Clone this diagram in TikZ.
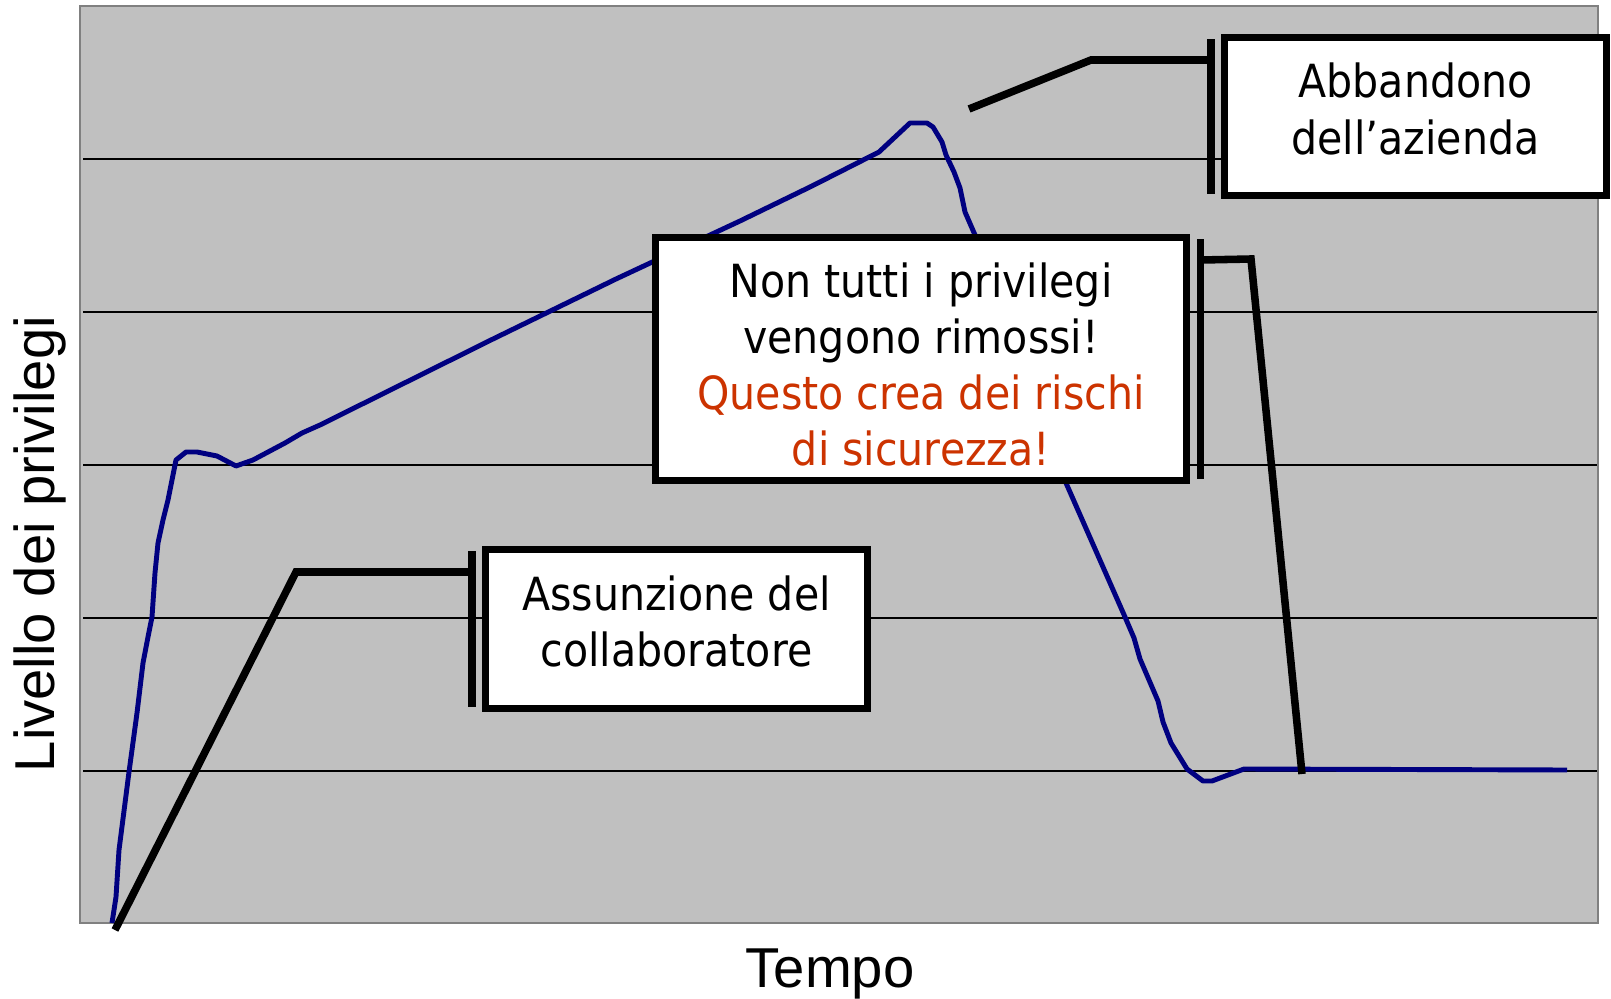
\documentclass[tikz,border=0pt]{standalone}
\usepackage{fontspec}
\setmainfont{Liberation Sans}
\newfontfamily\calloutfont{DejaVu Sans}[FakeStretch=0.9]

\definecolor{plotgrey}{RGB}{192,192,192}
\definecolor{framegrey}{RGB}{128,128,128}
\definecolor{curvenavy}{RGB}{0,0,128}
\definecolor{riskred}{RGB}{204,51,0}

\tikzset{
  callout/.style={draw=black, line width=4.4pt, fill=white, outer sep=0pt, inner sep=0pt, align=center, font=\calloutfont\fontsize{26}{32}\selectfont},
  accentbar/.style={line width=4.4pt},
  leader/.style={line width=4.3pt},
  gridline/.style={black, line width=0.8pt},
  privcurve/.style={curvenavy, line width=2.8pt, line join=round},
  axislabel/.style={inner sep=0pt, font=\fontsize{32}{38}\selectfont}
}

\begin{document}
\begin{tikzpicture}[x=0.02cm, y=-0.02cm]
\useasboundingbox (0,0) rectangle (1611,999);
\fill[plotgrey] (80,6) rectangle (1598,923);
\foreach \gy in {159,312,465,618,771}
  \draw[gridline] (83,\gy) -- (1598,\gy);
\draw[framegrey, line width=1.2pt] (80,6) rectangle (1598,923);

\draw[privcurve] (112,923) -- (116,897) -- (119,850) -- (129,772) -- (137,713) -- (143,663) -- (148,637) -- (152,617)
  -- (155,573) -- (158,543) -- (163,520) -- (168,500) -- (172,480) -- (176,460) -- (186,452) -- (197,452) -- (217,456)
  -- (236,466) -- (253,460) -- (285,443) -- (302,433) -- (320,425) -- (493,339) -- (616,279) -- (740,221) -- (812,186)
  -- (879,152) -- (910,123) -- (927,123) -- (933,127) -- (942,142) -- (946,155) -- (954,172) -- (960,188) -- (965,212)
  -- (975,235) -- (1066,483) -- (1125,617) -- (1134,638) -- (1140,659) -- (1158,701) -- (1163,722) -- (1171,743)
  -- (1187,769) -- (1203,781) -- (1212,781) -- (1244,769) -- (1567,770);

\node[axislabel, rotate=90] (ylab) at (40,544) {Livello dei privilegi};
\node[axislabel] (xlab) at (830,974) {Tempo};

\node[callout, minimum width=7.64cm, minimum height=3.18cm, text depth=9pt] (hire) at (676.5,629) {Assunzione del\\collaboratore};
\node[callout, minimum width=10.62cm, minimum height=4.86cm] (residual) at (921,359) {\rule{0pt}{26pt}Non tutti i privilegi\\vengono rimossi!\\\textcolor{riskred}{Questo crea dei rischi}\\\textcolor{riskred}{di sicurezza!}};
\node[callout, minimum width=7.64cm, minimum height=3.16cm, text depth=9pt] (leave) at (1415.5,116.5) {Abbandono\\dell’azienda};

\coordinate (hireknee) at (296,572);
\coordinate (hirept) at (115,930);
\coordinate (residualknee) at (1251,259);
\coordinate (residualpt) at (1302,774);
\coordinate (leaveknee) at (1091,60);
\coordinate (leavept) at (969,109);

\draw[accentbar] ([xshift=-0.27cm,yshift=-0.03cm]hire.north west) -- ([xshift=-0.27cm,yshift=0.03cm]hire.south west);
\draw[accentbar] ([xshift=0.28cm,yshift=-0.03cm]residual.north east) -- ([xshift=0.28cm,yshift=0.03cm]residual.south east);
\draw[accentbar] ([xshift=-0.27cm,yshift=-0.03cm]leave.north west) -- ([xshift=-0.27cm,yshift=0.03cm]leave.south west);

\draw[leader] ([xshift=-0.27cm,yshift=-0.45cm]hire.north west) -- (hireknee) -- (hirept);
\draw[leader] ([xshift=0.28cm,yshift=-0.45cm]residual.north east) -- (residualknee) -- (residualpt);
\draw[leader] ([xshift=-0.27cm,yshift=-0.45cm]leave.north west) -- (leaveknee) -- (leavept);
\end{tikzpicture}
\end{document}
